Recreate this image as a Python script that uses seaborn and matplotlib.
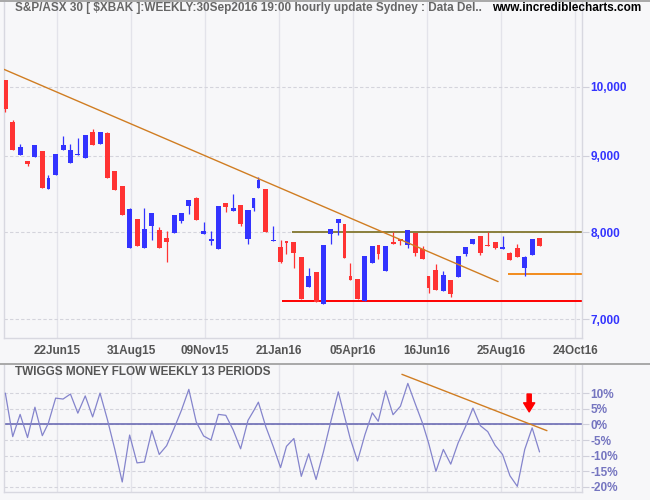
import numpy as np
import pandas as pd
import matplotlib
matplotlib.use("Agg")
import matplotlib.pyplot as plt
from matplotlib.lines import Line2D
from matplotlib.ticker import FixedLocator, FuncFormatter, NullLocator
import seaborn as sns

# weekly bars, first week starts Mon 27 Apr 2015
week_start = "2015-04-27"
n_weeks = 75
asx_holidays = ["2015-06-08", "2015-12-25", "2015-12-28", "2016-01-01", "2016-01-26",
                "2016-03-25", "2016-03-28", "2016-04-25", "2016-06-13"]

opens = [10108, 9477, 9014, 8926, 8985, 9064, 8555, 8741, 9078, 8903, 9010, 8971, 9333, 9167, 9319,
         8791, 8591, 7814, 8166, 7814, 8082, 8029, 7931, 7996, 8144, 8335, 8434, 7984, 7898, 7802,
         8369, 8270, 8344, 7923, 8305, 8568, 8551, 7898, 7822, 7895, 7883, 7703, 7360, 7528, 7170,
         7984, 8119, 8104, 7478, 7447, 7203, 7636, 7846, 7543, 7883, 7919, 7850, 7992, 7798, 7482,
         7551, 7315, 7440, 7474, 7742, 7858, 7956, 7846, 7883, 7802, 7751, 7810, 7578, 7730, 7931]
highs = [10108, 9506, 9163, 8926, 9149, 9064, 8737, 9024, 9276, 9163, 9247, 9290, 9376, 9333, 9333,
         8791, 8591, 8305, 8166, 8305, 8241, 8066, 8020, 8216, 8241, 8408, 8447, 8128, 8017, 8331,
         8369, 8490, 8344, 8279, 8434, 8706, 8551, 8078, 7907, 7895, 7883, 7703, 7574, 7528, 7846,
         8041, 8166, 8104, 7628, 7447, 7715, 7834, 7846, 7834, 8004, 7919, 8029, 7992, 7834, 7482,
         7624, 7543, 7440, 7715, 7822, 7919, 7956, 8004, 7883, 7956, 7763, 7858, 7712, 7919, 7931]
lows = [9623, 9078, 9014, 8858, 8985, 8568, 8555, 8741, 9078, 8903, 9010, 8971, 9153, 9167, 8701,
        8542, 8220, 7814, 7838, 7814, 7911, 7814, 7648, 7996, 8119, 8232, 8157, 7984, 7850, 7802,
        8258, 8270, 8082, 7862, 8270, 8568, 8004, 7898, 7636, 7742, 7578, 7225, 7360, 7192, 7170,
        7862, 7972, 7695, 7440, 7225, 7203, 7636, 7683, 7543, 7862, 7850, 7814, 7718, 7683, 7292,
        7326, 7315, 7248, 7474, 7718, 7858, 7730, 7834, 7802, 7802, 7671, 7707, 7485, 7730, 7838]
closes = [9668, 9078, 9120, 8890, 9149, 8568, 8697, 9024, 9149, 9078, 9024, 9290, 9153, 9333, 8701,
          8542, 8220, 8292, 7838, 8041, 8241, 7814, 7886, 8216, 8241, 8408, 8157, 8017, 7919, 8331,
          8322, 8305, 8104, 8279, 8434, 8670, 8004, 7911, 7648, 7876, 7754, 7225, 7482, 7192, 7846,
          8041, 8166, 7695, 7440, 7225, 7715, 7834, 7742, 7834, 7862, 7898, 8029, 7754, 7683, 7348,
          7326, 7493, 7281, 7715, 7822, 7919, 7754, 7834, 7814, 7822, 7671, 7707, 7707, 7919, 7838]

# Twiggs Money Flow, 13 weeks (%)
tmf = [10.0, -3.9, 3.2, -4.2, 5.5, -3.6, 0.3, 8.4, 8.1, 9.7, 3.6, 9.1, 2.4, 10.0, 1.5,
       -8.0, -18.4, -3.4, -12.3, -12.0, -2.0, -9.6, -6.8, -1.3, 4.5, 11.2, 0.8, -3.7, -5.0, 3.2,
       2.9, -1.8, -7.8, 1.3, 4.5, 7.1, -0.7, -7.0, -13.8, -7.0, -4.5, -16.6, -9.4, -17.6, -8.7,
       1.0, 10.4, 3.0, -4.4, -11.7, -3.3, 3.7, 1.0, 10.7, 3.1, 5.8, 13.1, 6.6, 0.3, -5.9,
       -15.0, -8.0, -12.7, -5.9, -0.7, 5.2, -0.4, -2.3, -6.7, -9.6, -16.4, -19.8, -8.0, -1.1, -8.8]

tick_labels = ["22Jun15", "31Aug15", "09Nov15", "21Jan16", "05Apr16", "16Jun16", "25Aug16", "24Oct16"]
first_tick = "2015-06-22"
tick_step = 50  # trading days between date labels

price_ticks = [7000, 8000, 9000, 10000]
tmf_ticks = [-20, -15, -10, -5, 0, 5, 10]

resistance, resistance_from = 8000, "2016-02-04"
support, support_from = 7200, "2016-01-25"
stop_level, stop_from = 7500, "2016-09-01"
price_trend_dates = ["2015-04-30", "2016-08-23"]
price_trend_vals = [10275, 7418]
tmf_trend_dates = ["2016-05-23", "2016-10-07"]
tmf_trend_vals = [16.0, -2.0]
arrow_date, arrow_from, arrow_to = "2016-09-21", 9.7, 4.0

title = r"S&P/ASX 30 [ \$XBAK ]:WEEKLY:30Sep2016 19:00 hourly update Sydney : Data Del.."

# x axis counts trading days
tdays = pd.bdate_range("2015-04-27", "2016-12-30", freq="C", holidays=asx_holidays)
pos = pd.Series(np.arange(len(tdays)), index=tdays)
weeks = pd.date_range(week_start, periods=n_weeks, freq="7D")
bar_x, bar_n = [], []
for w in weeks:
    p = pos[(pos.index >= w) & (pos.index < w + pd.Timedelta(days=7))]
    bar_x.append(p.iloc[-1])
    bar_n.append(len(p))

df = pd.DataFrame({"x": bar_x, "n": bar_n, "open": opens, "high": highs,
                   "low": lows, "close": closes, "tmf": tmf})

sns.set_style("white")
plt.rcParams["font.family"] = ["Liberation Sans", "DejaVu Sans"]
plt.rcParams["font.weight"] = "bold"

BG = "#f7f7f9"
RED, BLUE = "#ff3333", "#3333ff"
W, H = 650, 500

def box(x0, y0, x1, y1):
    return [x0 / W, 1 - y1 / H, (x1 - x0) / W, (y1 - y0) / H]

fig = plt.figure(figsize=(6.5, 5), dpi=100, facecolor=BG)
ax = fig.add_axes(box(4, 0, 582, 338), facecolor=BG)
ax2 = fig.add_axes(box(4, 364, 582, 492), facecolor=BG, sharex=ax)

# candles
up = df["close"] >= df["open"]
colors = np.where(up, BLUE, RED)
ax.set_yscale("log")
ax.vlines(df["x"], df["low"], df["high"], colors=colors, lw=0.9, zorder=3)
lo = np.minimum(df["open"], df["close"])
hi = np.maximum(np.maximum(df["open"], df["close"]), lo * 1.0017)
ax.bar(df["x"], hi - lo, bottom=lo, width=np.where(df["n"] == 5, 3.4, 2.0),
       color=colors, lw=0, zorder=3)

x_left, x_right = 3.1, 393.7
ax.set_xlim(x_left, x_right)
ax.set_ylim(6803, 11428)

# annotations on price
ax.hlines(resistance, pos[resistance_from], x_right, color="#8a7f3c", lw=1.4, zorder=2)
ax.hlines(support, pos[support_from], x_right, color="#ff0000", lw=1.4, zorder=2)
ax.hlines(stop_level, pos[stop_from], x_right, color="#f28c1c", lw=1.4, zorder=2)
sns.lineplot(x=[pos[d] for d in price_trend_dates], y=price_trend_vals, ax=ax,
             color="#d07d22", lw=1.0, zorder=4)

# TMF panel
ax2.axhline(0, color="#6c6cb4", lw=1.2, zorder=2)
sns.lineplot(data=df, x="x", y="tmf", ax=ax2, color="#8484cc", lw=0.9, zorder=3)
sns.lineplot(x=[pos[d] for d in tmf_trend_dates], y=tmf_trend_vals, ax=ax2,
             color="#d07d22", lw=1.0, zorder=4)
ax2.annotate("", xy=(pos[arrow_date], arrow_to), xytext=(pos[arrow_date], arrow_from),
             arrowprops=dict(arrowstyle="simple,head_width=0.8,head_length=0.65,tail_width=0.3",
                             color="#ff0000", shrinkA=0, shrinkB=0), zorder=5)
ax2.set_ylim(-21.6, 19.3)

# axes styling
tick_pos = pos[first_tick] + tick_step * np.arange(len(tick_labels))
for a in (ax, ax2):
    a.set_xlabel("")
    a.set_ylabel("")
    a.xaxis.set_major_locator(FixedLocator(tick_pos))
    a.grid(axis="x", color="#e3e3ea", lw=1.0, ls="-")
    a.grid(axis="y", color="#d4d4dc", lw=0.8, ls=(0, (3, 2)))
    a.set_axisbelow(True)
    a.yaxis.tick_right()
    a.yaxis.set_minor_locator(NullLocator())
    for s in ("left", "bottom", "right"):
        a.spines[s].set_color("#d8d8e0")
        a.spines[s].set_linewidth(1.0)
    a.spines["top"].set_visible(False)

ax.xaxis.set_major_formatter(FuncFormatter(lambda v, i: tick_labels[i] if i < len(tick_labels) else ""))
ax.tick_params(axis="x", length=0, pad=5, labelsize=8.5, labelcolor="#555555")
ax2.tick_params(axis="x", length=0, labelbottom=False)

ax.yaxis.set_major_locator(FixedLocator(price_ticks))
ax.yaxis.set_major_formatter(FuncFormatter(lambda v, i: f"{v:,.0f}"))
ax.tick_params(axis="y", which="both", length=5, width=0.8, color="#d0d0da",
               labelsize=8.5, labelcolor="#3333ff", pad=1)

ax2.yaxis.set_major_locator(FixedLocator(tmf_ticks))
ax2.yaxis.set_major_formatter(FuncFormatter(lambda v, i: f"{v:.0f}%"))
ax2.tick_params(axis="y", length=5, width=0.8, color="#d0d0da",
                labelsize=8.5, labelcolor="#7575c0", pad=1)

# header texts and separators
fig.text(15 / W, 1 - 8 / H, title, color="#666666", fontsize=8.5, va="center", ha="left")
fig.text(641 / W, 1 - 8 / H, "www.incrediblecharts.com", color="black", fontsize=8.5,
         va="center", ha="right")
fig.text(15 / W, 1 - 372 / H, "TWIGGS MONEY FLOW WEEKLY 13 PERIODS", color="#555555",
         fontsize=8.5, va="center", ha="left")
fig.add_artist(Line2D([0, 1], [1 - 0.8 / H] * 2, transform=fig.transFigure, color="#a8a8a8", lw=1.4))
fig.add_artist(Line2D([0, 1], [1 - 364 / H] * 2, transform=fig.transFigure, color="#a8a8a8", lw=1.4))

fig.savefig("out.png", dpi=100, facecolor=BG)
